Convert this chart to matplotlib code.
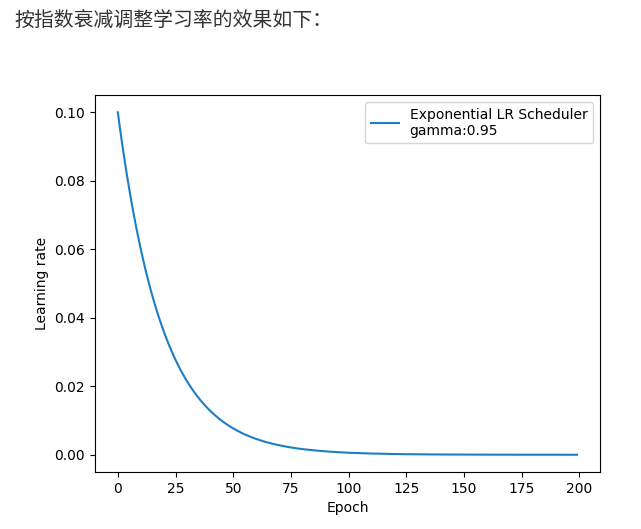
import matplotlib.pyplot as plt

# lr: every epoch early on, then sparser where it flattens out
epochs = list(range(0, 41)) + list(range(42, 81, 2)) + list(range(85, 200, 5)) + [199]
lr = [0.1, 0.095, 0.09025, 0.085738, 0.081451, 0.077378, 0.073509, 0.069834, 0.066342,
      0.063025, 0.059874, 0.05688, 0.054036, 0.051334, 0.048767, 0.046329, 0.044013,
      0.041812, 0.039721, 0.037735, 0.035849, 0.034056, 0.032353, 0.030736, 0.029199,
      0.027739, 0.026352, 0.025034, 0.023783, 0.022594, 0.021464, 0.020391, 0.019371,
      0.018403, 0.017482, 0.016608, 0.015778, 0.014989, 0.01424, 0.013528, 0.012851,
      0.011598, 0.010467, 0.009447, 0.008526, 0.007694, 0.006944, 0.006267, 0.005656,
      0.005105, 0.004607, 0.004158, 0.003753, 0.003387, 0.003057, 0.002759, 0.00249,
      0.002247, 0.002028, 0.00183, 0.001652,
      0.00128, 0.00099, 0.00077, 0.00059, 0.00046, 0.00036, 0.00028, 0.00021, 0.00016,
      0.00013, 0.0001, 0.00008, 0.00006, 0.00005, 0.00004, 0.00003, 0.00002, 0.00002,
      0.00001, 0.00001, 0.00001, 0.00001, 0.0, 0.0]

fig = plt.figure(figsize=(6.41, 5.29), dpi=100)
fig.text(0.022, 0.96, '按指数衰减调整学习率的效果如下：', fontsize=14.3, color='#333333',
         family=['Noto Sans CJK SC', 'DejaVu Sans'], va='center', ha='left')

ax = fig.add_axes([0.148, 0.108, 0.788, 0.712])
ax.plot(epochs, lr, color='#1a7fc4', linewidth=1.5,
        label='Exponential LR Scheduler\ngamma:0.95')
ax.set_xlabel('Epoch')
ax.set_ylabel('Learning rate')
ax.set_xticks([0, 25, 50, 75, 100, 125, 150, 175, 200])
ax.legend(loc='upper right')

plt.savefig('out.png', dpi=100)
